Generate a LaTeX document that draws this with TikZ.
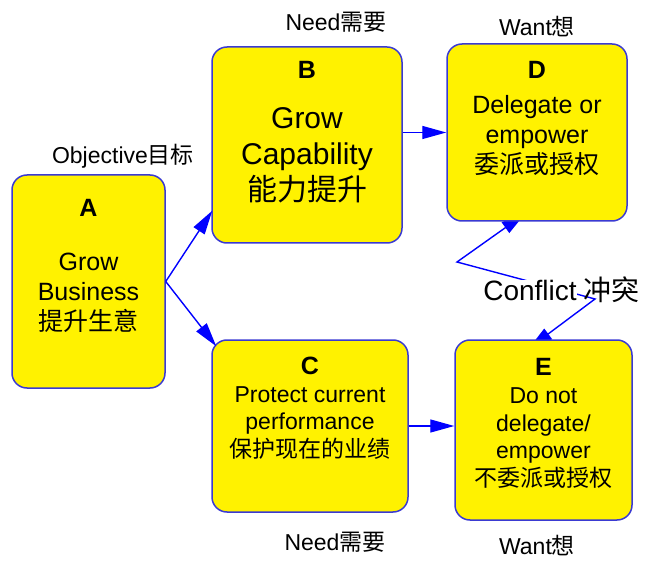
\documentclass[tikz,border=0pt]{standalone}
\usepackage{fontspec}
\setmainfont{Liberation Sans}
\newfontfamily\cjk{Noto Sans CJK SC}
\usepackage{tikz}
\usetikzlibrary{arrows.meta}
\usetikzlibrary{backgrounds}
\usetikzlibrary{positioning}
\newcommand{\zh}[1]{{\cjk #1}}
\definecolor{cardedge}{RGB}{58,58,210}
\tikzset{card/.style={rectangle,rounded corners=15pt,draw=cardedge,fill=yellow,line width=1.5pt}}
\tikzset{tag/.style={font=\fontsize{25}{28}\selectfont\bfseries,inner sep=0pt}}
\tikzset{body/.style={align=center,inner sep=0pt}}
\tikzset{note/.style={font=\fontsize{23}{26}\selectfont,inner sep=0pt}}
\tikzset{link/.style={draw=blue,line width=1.4pt,-{Triangle[length=24pt,width=13pt]}}}

\begin{document}
\begin{tikzpicture}[x=1pt,y=-1pt]
\useasboundingbox (0,0) rectangle (645,561);

    % cards
    \node[card,minimum width=153pt,minimum height=213pt] (A) at (88.5,281.5){};
    \node[card,minimum width=190pt,minimum height=196pt] (B) at (307,145){};
    \node[card,minimum width=196pt,minimum height=172pt] (C) at (310,426){};
    \node[card,minimum width=180pt,minimum height=177pt] (D) at (537,132.5){};
    \node[card,minimum width=177pt,minimum height=180pt] (E) at (543.5,430){};

    \node[tag] (A-tag) at (88.5,208){A};
    \node[body,font=\fontsize{25}{30}\selectfont] (A-body) at (88.5,293){Grow\\Business\\\zh{提升生意}};
    \node[tag] (B-tag) at (307,70){B};
    \node[body,font=\fontsize{30}{36}\selectfont] (B-body) at (307,155){Grow\\Capability\\\zh{能力提升}};
    \node[tag] (C-tag) at (310,366){C};
    \node[body,font=\fontsize{23}{27.5}\selectfont] (C-body) at (310,423){Protect current\\performance\\\zh{保护现在的业绩}};
    \node[tag] (D-tag) at (537,70){D};
    \node[body,font=\fontsize{25}{30}\selectfont] (D-body) at (537,136){Delegate or\\empower\\\zh{委派或授权}};
    \node[tag] (E-tag) at (543.5,367){E};
    \node[body,font=\fontsize{23}{27.5}\selectfont] (E-body) at (543.5,438){Do not\\delegate/\\empower\\\zh{不委派或授权}};

    % labels round the cards
    \node[note] (objective) at (123,156){Objective\zh{目标}};
    \node[note] (need-B) at (336,22){Need\zh{需要}};
    \node[note] (want-D) at (537,27){Want\zh{想}};
    \node[note] (need-C) at (335,542){Need\zh{需要}};
    \node[note] (want-E) at (537,546){Want\zh{想}};

    \draw[link] (A.east) -- ([xshift=1pt,yshift=33pt]B.south west);
    \draw[link] (A.east) -- ([xshift=5pt,yshift=-7pt]C.north west);
    \draw[link] (B.east |- D.west) -- (D.west);
    \draw[link] (C.east) -- (C.east -| E.west);

    % conflict bolt, tips tucked under the cards
    \node[font=\fontsize{28}{32}\selectfont,fill=white,inner sep=0pt] (conflict) at (530,290){Conflict};
    \node[font=\fontsize{28}{32}\selectfont,inner sep=0pt,right=6pt of conflict] (conflict-zh){\zh{冲突}};
    \coordinate (k1) at (595,299);
    \coordinate (k2) at (457,262);
    \begin{scope}[on background layer]
    \draw[link,{Triangle[length=24pt,width=13pt]}-{Triangle[length=24pt,width=13pt]}]
        ([xshift=-14.5pt,yshift=-9pt]E.north) -- (k1) -- (k2) -- ([xshift=-12pt,yshift=8pt]D.south);
    \end{scope}

\end{tikzpicture}
\end{document}
